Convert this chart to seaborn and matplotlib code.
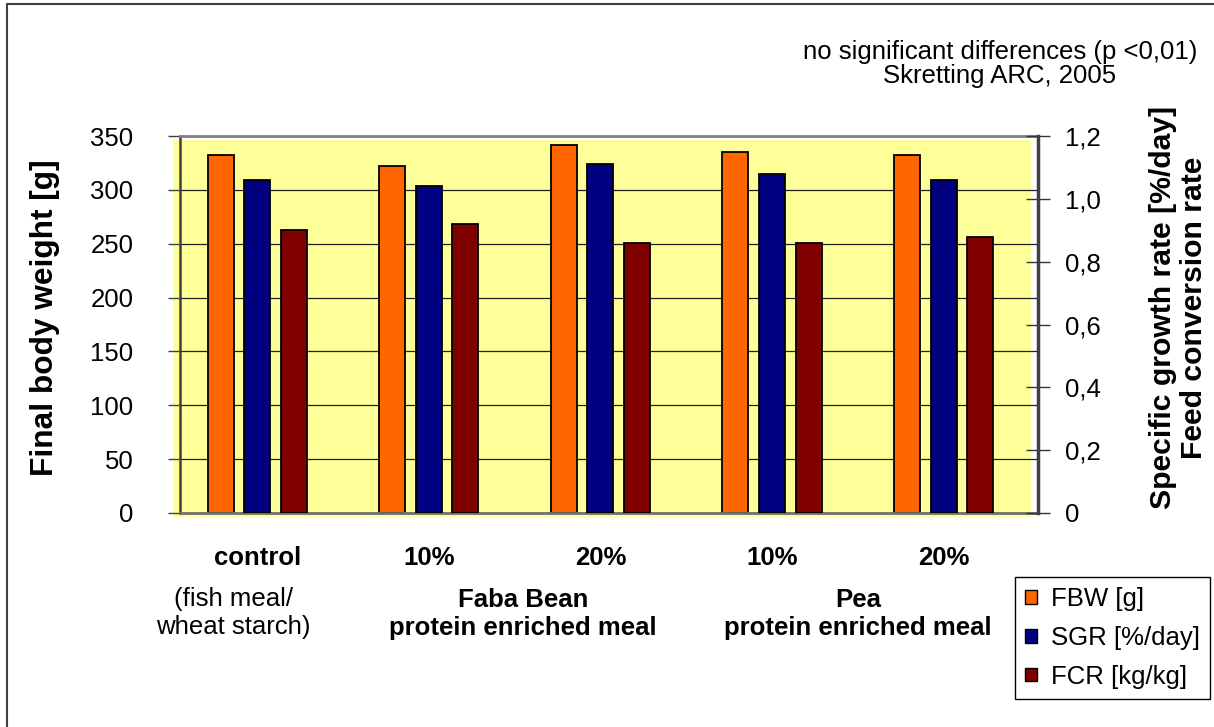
import numpy as np
import pandas as pd
import matplotlib
matplotlib.use('Agg')
import matplotlib.pyplot as plt
import seaborn as sns
from matplotlib.patches import Patch, Rectangle
from matplotlib.lines import Line2D
from matplotlib.transforms import blended_transform_factory

# data
diets = ['control', 'faba 10%', 'faba 20%', 'pea 10%', 'pea 20%']
tick_labels = ['control', '10%', '20%', '10%', '20%']
fbw = [332, 322, 342, 335, 332]
sgr = [1.06, 1.04, 1.11, 1.08, 1.06]
fcr = [0.90, 0.92, 0.86, 0.86, 0.88]
measures = ['FBW [g]', 'SGR [%/day]', 'FCR [kg/kg]']
colors = ['#FF6600', '#000080', '#800000']
left_ticks = [0, 50, 100, 150, 200, 250, 300, 350]
right_ticks = [0, 0.2, 0.4, 0.6, 0.8, 1.0, 1.2]
right_tick_labels = ['0', '0,2', '0,4', '0,6', '0,8', '1,0', '1,2']
sub_labels = ['(fish meal/\nwheat starch)', 'Faba Bean\nprotein enriched meal', 'Pea\nprotein enriched meal']
note = 'no significant differences (p <0,01)\nSkretting ARC, 2005'

sns.set_style('white')
plt.rcParams['font.family'] = ['Liberation Sans', 'DejaVu Sans']
plt.rcParams['text.color'] = 'black'
plt.rcParams['axes.labelcolor'] = 'black'
plt.rcParams['xtick.color'] = 'black'
plt.rcParams['ytick.color'] = 'black'

left_df = pd.DataFrame({'diet': diets, 'value': fbw, 'measure': measures[0]})
right_df = pd.concat([
    pd.DataFrame({'diet': diets, 'value': sgr, 'measure': measures[1]}),
    pd.DataFrame({'diet': diets, 'value': fcr, 'measure': measures[2]}),
])

fig = plt.figure(figsize=(12.14, 7.27), dpi=100)
ax = fig.add_axes([180 / 1214, 1 - 513 / 727, 858 / 1214, 377 / 727])
ax.set_facecolor('none')
ax2 = ax.twinx()

# yellow plot area, slightly offset like the excel original
fig.add_artist(Rectangle((172.7 / 1214, 1 - 516.7 / 727), (1031 - 172.7) / 1214, (516.7 - 140) / 727,
                         transform=fig.transFigure, facecolor='#FFFF99', edgecolor='none', zorder=-1))

bar_kw = dict(x='diet', y='value', hue='measure', order=diets, hue_order=measures,
              palette=colors, saturation=1, dodge=True, width=0.64, gap=0.29,
              edgecolor='black', linewidth=1.3, legend=False, errorbar=None)
sns.barplot(data=left_df, ax=ax, **bar_kw)
sns.barplot(data=right_df, ax=ax2, **bar_kw)

ax.set_ylim(0, 350)
ax.set_yticks(left_ticks)
ax2.set_ylim(0, 1.2)
ax2.set_yticks(right_ticks)
ax2.set_yticklabels(right_tick_labels)
ax.set_xlim(-0.45, 4.55)
ax.set_xticks(range(len(diets)))
ax.set_xticklabels(tick_labels, fontweight='bold', fontsize=18.5)
ax.set_xticks(np.arange(len(diets) + 1) - 0.45, minor=True)
ax.set_xlabel('')
ax2.set_xlabel('')

ax.yaxis.grid(True, color='#202020', lw=0.9)
ax.set_axisbelow(True)
ax2.grid(False)

ax.tick_params(axis='x', which='major', length=0, pad=24)
ax.tick_params(axis='x', which='minor', length=6.5, width=1, color='#404040', direction='out')
ax.tick_params(axis='y', length=8.6, width=1, color='#404040', direction='out', labelsize=18.5, pad=25)
ax2.tick_params(axis='y', length=17, width=1, color='#333333', direction='inout', labelsize=18.5, pad=11)

ax.spines['right'].set_visible(False)
for s in ['left', 'top', 'bottom']:
    ax2.spines[s].set_visible(False)
ax.spines['top'].set_color('#808080')
ax.spines['top'].set_linewidth(2)
ax.spines['left'].set_color('#404040')
ax.spines['left'].set_linewidth(1.8)
ax.spines['bottom'].set_color('#707070')
ax.spines['bottom'].set_linewidth(2)
ax2.spines['right'].set_color('#404040')
ax2.spines['right'].set_linewidth(2.5)

ax.set_ylabel('Final body weight [g]', fontsize=22.8, fontweight='bold')
ax.yaxis.set_label_coords(-0.14, 0.517)
ax2.set_ylabel('Specific growth rate [%/day]\nFeed conversion rate', fontsize=21.7,
               fontweight='bold')
ax2.yaxis.label.set_linespacing(1.15)
ax2.yaxis.set_label_coords(1.129, 0.544)

# second row of category labels
trans = blended_transform_factory(ax.transData, fig.transFigure)
ax.text(-0.14, 1 - 613 / 727, sub_labels[0], transform=trans, ha='center', va='center',
        fontsize=18.5, linespacing=1.25, multialignment='center')
ax.text(1.55, 1 - 614 / 727, sub_labels[1], transform=trans, ha='center', va='center',
        fontsize=18.5, fontweight='bold', linespacing=1.25, multialignment='center')
ax.text(3.5, 1 - 614 / 727, sub_labels[2], transform=trans, ha='center', va='center',
        fontsize=18.5, fontweight='bold', linespacing=1.25, multialignment='center')

fig.text(1000 / 1214, 1 - 64 / 727, note, ha='center', va='center', fontsize=18.5,
         linespacing=1.0, multialignment='center')

handles = [Patch(facecolor=c, edgecolor='black', lw=1) for c in colors]
leg = fig.legend(handles, measures, loc='lower right', bbox_to_anchor=(1210 / 1214, 1 - 699 / 727),
                 fontsize=18.5, frameon=True, fancybox=False, edgecolor='black', framealpha=1,
                 handlelength=0.45, handleheight=0.45, handletextpad=0.55, labelspacing=0.58,
                 borderpad=0.4, borderaxespad=0)
leg.get_frame().set_linewidth(1)

# figure border (left and top only are visible in the original)
fig.add_artist(Line2D([7 / 1214, 7 / 1214], [0, 1 - 4 / 727], transform=fig.transFigure, color='#404040', lw=1.5))
fig.add_artist(Line2D([7 / 1214, 1], [1 - 4 / 727, 1 - 4 / 727], transform=fig.transFigure, color='#404040', lw=1.5))

fig.savefig('out.png', dpi=100)
